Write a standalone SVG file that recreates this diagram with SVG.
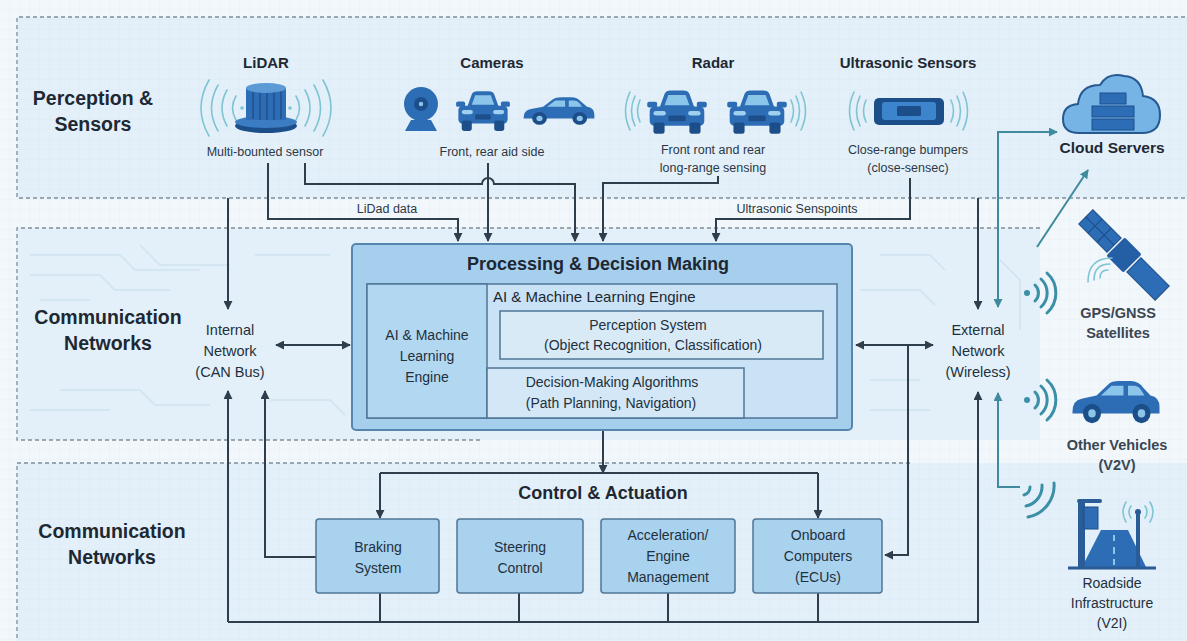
<svg xmlns="http://www.w3.org/2000/svg" xmlns:xlink="http://www.w3.org/1999/xlink" width="1187" height="641" viewBox="0 0 1187 641">
  <style>
    text { font-family: "Liberation Sans", Arial, sans-serif; fill: #1e2833; }
    .sec { font-size: 19.5px; font-weight: bold; text-anchor: middle; }
    .ttl { font-size: 15px; font-weight: bold; text-anchor: middle; }
    .sub { font-size: 12.5px; text-anchor: middle; fill: #2c3845; }
    .lbl { font-size: 14px; text-anchor: middle; fill: #22303d; }
    .net { font-size: 14.5px; text-anchor: middle; fill: #22303d; }
    .big { font-size: 18px; font-weight: bold; text-anchor: middle; }
    .dash { fill: none; stroke: #7d8e9c; stroke-width: 1.3; stroke-dasharray: 4 3; }
    .ln { fill: none; stroke: #2f3e4c; stroke-width: 2; }
    .tl { fill: none; stroke: #3f8a9c; stroke-width: 2; }
    .wave { fill: none; stroke: #7fc4d4; stroke-width: 1.6; stroke-linecap: round; }
    .wf { fill: none; stroke: #3b8fa6; stroke-width: 3; stroke-linecap: round; }
    .box { fill: #a9d2ef; stroke: #4f7696; stroke-width: 1.5; }
    .trace { fill: none; stroke: #cfe2ef; stroke-width: 1.4; }
    .icon { fill: #2c6db6; }
    .iconD { fill: #1c4f8a; }
    .ext { font-size: 14.5px; text-anchor: middle; fill: #3a4652; font-weight: bold; }
  </style>
  <defs>
    <pattern id="grid" width="10" height="10" patternUnits="userSpaceOnUse">
      <path d="M10,0 V10 M0,10 H10" fill="none" stroke="#d7e8f3" stroke-width="0.6"/>
    </pattern>
    <marker id="ah" viewBox="0 0 10 10" refX="9" refY="5" markerWidth="9" markerHeight="9" markerUnits="userSpaceOnUse" orient="auto-start-reverse">
      <path d="M0,0 L10,5 L0,10 z" fill="#2f3e4c"/>
    </marker>
    <marker id="aht" viewBox="0 0 10 10" refX="9" refY="5" markerWidth="9" markerHeight="9" markerUnits="userSpaceOnUse" orient="auto-start-reverse">
      <path d="M0,0 L10,5 L0,10 z" fill="#3f8a9c"/>
    </marker>
    <symbol id="carFront" viewBox="0 0 50 42" preserveAspectRatio="none">
      <path d="M11,18 L15,6 Q16,3 20,3 H30 Q34,3 35,6 L39,18 Z" fill="#2c6db6"/>
      <path d="M15,16 L18,7 H32 L35,16 Z" fill="#8cc5ea"/>
      <rect x="1" y="13" width="8" height="5" rx="1.5" fill="#2c6db6"/>
      <rect x="41" y="13" width="8" height="5" rx="1.5" fill="#2c6db6"/>
      <rect x="3" y="17" width="44" height="17" rx="4" fill="#2c6db6"/>
      <rect x="6" y="31" width="9" height="10" rx="2" fill="#1c4f8a"/>
      <rect x="35" y="31" width="9" height="10" rx="2" fill="#1c4f8a"/>
      <rect x="6" y="21" width="10" height="4" rx="2" fill="#9fd0f0"/>
      <rect x="34" y="21" width="10" height="4" rx="2" fill="#9fd0f0"/>
      <rect x="18" y="25" width="14" height="5" rx="1" fill="#1c4f8a"/>
    </symbol>
    <symbol id="carSide" viewBox="0 0 64 32" preserveAspectRatio="none">
      <path d="M3,22 Q3,15 9,14 L19,12 L27,5 Q29,3 34,3 H42 Q47,3 50,7 L55,12 Q61,13 61,19 V23 H3 Z" fill="#2c6db6"/>
      <path d="M22,12 L29,6 H37 V12 Z M40,12 V6 H44 Q47,6 49,9 L51,12 Z" fill="#8cc5ea"/>
      <circle cx="16" cy="23" r="6" fill="#1c4f8a"/>
      <circle cx="49" cy="23" r="6" fill="#1c4f8a"/>
      <circle cx="16" cy="23" r="2.5" fill="#8cc5ea"/>
      <circle cx="49" cy="23" r="2.5" fill="#8cc5ea"/>
    </symbol>
    <g id="wifi">
      <circle cx="0" cy="0" r="3" fill="#3b8fa6"/>
      <path class="wf" d="M8,-8 A11,11 0 0 1 8,8 M14,-14 A19,19 0 0 1 14,14 M20,-20 A27,27 0 0 1 20,20"/>
    </g>
  </defs>

  <!-- page -->
  <rect width="1187" height="641" fill="#f1f7fb"/>
  <rect width="1187" height="641" fill="url(#grid)" opacity="0.6"/>

  <!-- section panels -->
  <g id="panel-perception">
    <rect x="17" y="17" width="1175" height="181" fill="#e3f0f9"/>
    <rect x="17" y="17" width="1175" height="181" fill="url(#grid)"/>
    <path class="dash" d="M1192,17 H17 V198 H1192"/>
  </g>
  <g id="panel-network">
    <rect x="17" y="228" width="1023" height="212" fill="#e3f0f9"/>
    <path class="trace" d="M30,255 H120 L135,270 H200 M30,275 H100 L115,290 H170 M60,390 H140 L155,405 H210 M30,410 H110 M40,300 H90 M140,245 L160,265 H230 M255,255 H330 M270,400 H330 L345,415 M880,255 H930 L945,270 M870,410 H930 M860,290 H920 L935,305 M1000,260 L1020,280 V330 M870,380 H920"/>
    <path class="dash" d="M1040,228 H17 V440 H480"/>
  </g>
  <g id="panel-control">
    <rect x="17" y="463" width="1175" height="180" fill="#e3f0f9"/>
    <rect x="17" y="463" width="1175" height="180" fill="url(#grid)"/>
    <path class="dash" d="M910,463 H17 V641"/>
  </g>

  <!-- section headings -->
  <text class="sec" x="93" y="105">Perception &amp;</text>
  <text class="sec" x="93" y="131">Sensors</text>
  <text class="sec" x="108" y="324">Communication</text>
  <text class="sec" x="108" y="350">Networks</text>
  <text class="sec" x="112" y="538">Communication</text>
  <text class="sec" x="112" y="564">Networks</text>

  <!-- connectors -->
  <g id="connectors">
    <path class="ln" d="M268,163 V219 H458 V241" marker-end="url(#ah)"/>
    <path class="ln" d="M305,163 V184 H482 A6,6 0 0 1 494,184 H575 V241" marker-end="url(#ah)"/>
    <path class="ln" d="M488,163 V241" marker-end="url(#ah)"/>
    <path class="ln" d="M718,176 V183 H603 V241" marker-end="url(#ah)"/>
    <path class="ln" d="M910,178 V219 H716 V241" marker-end="url(#ah)"/>
    <path class="ln" d="M228,198 V309" marker-end="url(#ah)"/>
    <path class="ln" d="M978,198 V309" marker-end="url(#ah)"/>
    <path class="ln" d="M276,345 H350" marker-start="url(#ah)" marker-end="url(#ah)"/>
    <path class="ln" d="M856,345 H933" marker-start="url(#ah)" marker-end="url(#ah)"/>
    <path class="ln" d="M908,345 V555 H885" marker-end="url(#ah)"/>
    <path class="ln" d="M823,359 V388 H747" marker-end="url(#ah)"/>
    <path class="ln" d="M603,430 V473" marker-end="url(#ah)"/>
    <path class="ln" d="M380,473 H818"/>
    <path class="ln" d="M380,473 V518" marker-end="url(#ah)"/>
    <path class="ln" d="M818,473 V518" marker-end="url(#ah)"/>
    <path class="ln" d="M228,622 V391" marker-end="url(#ah)"/>
    <path class="ln" d="M228,622 H978 V392" marker-end="url(#ah)"/>
    <path class="ln" d="M380,593 V622 M519,593 V622 M668,593 V622 M818,593 V622"/>
    <path class="ln" d="M316,557 H265 V391" marker-end="url(#ah)"/>
    <path class="tl" d="M1057,132 H998 V307" marker-start="url(#aht)" marker-end="url(#aht)"/>
    <path class="tl" d="M1020,487 H998 V393" marker-end="url(#aht)"/>
    <path class="tl" d="M1037,247 L1088,170" marker-end="url(#aht)"/>
    <text class="sub" x="387" y="213">LiDad data</text>
    <text class="sub" x="797" y="213">Ultrasonic Senspoints</text>
  </g>

  <!-- sensors -->
  <g id="lidar">
    <text class="ttl" x="266" y="68">LiDAR</text>
    <path class="wave" d="M236,96 Q229,108 236,120 M227,90 Q217,108 227,126 M218,85 Q205,108 218,131 M209,80 Q193,108 209,136 M296,96 Q303,108 296,120 M305,90 Q315,108 305,126 M314,85 Q327,108 314,131 M323,80 Q339,108 323,136"/>
    <circle cx="242" cy="108" r="1.8" fill="#7fc4d4"/>
    <circle cx="290" cy="108" r="1.8" fill="#7fc4d4"/>
    <ellipse cx="266" cy="126" rx="31" ry="7" class="iconD"/>
    <ellipse cx="266" cy="122" rx="31" ry="6" fill="#3b7cc2"/>
    <rect x="246" y="88" width="40" height="32" class="icon"/>
    <path d="M253,91 V119 M260,92 V120 M267,92 V120 M274,92 V120 M281,91 V119" stroke="#1b4a82" stroke-width="1.2"/>
    <ellipse cx="266" cy="88" rx="20" ry="5" fill="#5c9ad6"/>
    <text class="sub" x="265" y="156">Multi-bounted sensor</text>
  </g>

  <g id="cameras">
    <text class="ttl" x="492" y="68">Cameras</text>
    <circle cx="421" cy="104" r="17" class="icon"/>
    <circle cx="421" cy="104" r="7" fill="#1c4f8a"/>
    <circle cx="421" cy="104" r="2.2" fill="#8cc5ea"/>
    <path d="M411,120 H431 L437,131 H405 Z" class="icon"/>
    <use href="#carFront" x="455" y="88" width="56" height="44"/>
    <use href="#carSide" x="520" y="94" width="78" height="34"/>
    <text class="sub" x="492" y="156">Front, rear aid side</text>
  </g>

  <g id="radar">
    <text class="ttl" x="713" y="68">Radar</text>
    <path class="wave" d="M640,100 Q635,111 640,122 M635,96 Q628,111 635,126 M630,92 Q621,111 630,130 M791,100 Q796,111 791,122 M796,96 Q803,111 796,126 M801,92 Q810,111 801,130"/>
    <use href="#carFront" x="646" y="87" width="62" height="48"/>
    <use href="#carFront" x="726" y="87" width="62" height="48"/>
    <text class="sub" x="713" y="154">Front ront and rear</text>
    <text class="sub" x="713" y="172">long-range sensing</text>
  </g>

  <g id="ultrasonic">
    <text class="ttl" x="908" y="68">Ultrasonic Sensors</text>
    <path class="wave" d="M866,100 Q861,111 866,122 M860,96 Q853,111 860,126 M854,92 Q845,111 854,130 M951,100 Q956,111 951,122 M957,96 Q964,111 957,126 M963,92 Q972,111 963,130"/>
    <rect x="874" y="98" width="70" height="27" rx="5" class="iconD"/>
    <rect x="882" y="102" width="54" height="18" rx="3" fill="#3c84cc"/>
    <rect x="897" y="106" width="24" height="10" rx="1.5" class="iconD"/>
    <text class="sub" x="908" y="154">Close-range bumpers</text>
    <text class="sub" x="908" y="172">(close-sensec)</text>
  </g>

  <!-- networks -->
  <g id="internal-network">
    <text class="net" x="230" y="335">Internal</text>
    <text class="net" x="230" y="356">Network</text>
    <text class="net" x="230" y="377">(CAN Bus)</text>
  </g>
  <g id="external-network">
    <text class="net" x="978" y="335">External</text>
    <text class="net" x="978" y="356">Network</text>
    <text class="net" x="978" y="377">(Wireless)</text>
  </g>

  <!-- processing -->
  <g id="processing">
    <rect x="352" y="244" width="500" height="186" rx="4" fill="#a6cfee" stroke="#5685ad" stroke-width="2"/>
    <text class="big" x="598" y="270" font-size="18.5">Processing &amp; Decision Making</text>
    <rect x="367" y="284" width="470" height="134" fill="#c9e2f5" stroke="#4f7696" stroke-width="1.5"/>
    <rect x="367" y="284" width="120" height="134" fill="#b2d7f1" stroke="#4f7696" stroke-width="1.5"/>
    <text class="lbl" x="427" y="340" font-size="14.5">AI &amp; Machine</text>
    <text class="lbl" x="427" y="361" font-size="14.5">Learning</text>
    <text class="lbl" x="427" y="382" font-size="14.5">Engine</text>
    <text x="493" y="302" font-size="15" fill="#22303d">AI &amp; Machine Learning Engine</text>
  </g>
  <g id="perception-system">
    <rect x="500" y="311" width="323" height="48" fill="#d9eaf7" stroke="#4f7696" stroke-width="1.5"/>
    <text class="lbl" x="648" y="330" font-size="15">Perception System</text>
    <text class="lbl" x="653" y="350">(Object Recognition, Classification)</text>
  </g>
  <g id="decision-making">
    <rect x="487" y="368" width="257" height="50" fill="#d3e7f6" stroke="#4f7696" stroke-width="1.5"/>
    <text class="lbl" x="612" y="387" font-size="15">Decision-Making Algorithms</text>
    <text class="lbl" x="611" y="408">(Path Planning, Navigation)</text>
  </g>

  <!-- control & actuation -->
  <text class="big" x="603" y="499">Control &amp; Actuation</text>
  <g id="braking">
    <rect class="box" x="316" y="519" width="123" height="74" rx="3"/>
    <text class="lbl" x="378" y="552">Braking</text>
    <text class="lbl" x="378" y="573">System</text>
  </g>
  <g id="steering">
    <rect class="box" x="457" y="519" width="126" height="74" rx="3"/>
    <text class="lbl" x="520" y="552">Steering</text>
    <text class="lbl" x="520" y="573">Control</text>
  </g>
  <g id="acceleration">
    <rect class="box" x="601" y="519" width="134" height="74" rx="3"/>
    <text class="lbl" x="668" y="540">Acceleration/</text>
    <text class="lbl" x="668" y="561">Engine</text>
    <text class="lbl" x="668" y="582">Management</text>
  </g>
  <g id="onboard">
    <rect class="box" x="753" y="519" width="129" height="74" rx="3"/>
    <text class="lbl" x="818" y="540">Onboard</text>
    <text class="lbl" x="818" y="561">Computers</text>
    <text class="lbl" x="818" y="582">(ECUs)</text>
  </g>

  <!-- external entities -->
  <g id="cloud">
    <path d="M1079,133 Q1063,133 1063,119 Q1063,105 1078,104 Q1080,85 1100,85 Q1108,72 1124,76 Q1141,77 1143,96 Q1160,98 1160,115 Q1160,133 1142,133 Z" fill="#76b4e6" stroke="#25598f" stroke-width="2"/>
    <rect x="1100" y="93" width="26" height="11" class="icon" stroke="#1c4f8a"/>
    <rect x="1092" y="106" width="42" height="11" class="icon" stroke="#1c4f8a"/>
    <rect x="1092" y="119" width="42" height="11" class="icon" stroke="#1c4f8a"/>
    <text x="1112" y="153" font-size="15.5" font-weight="bold" text-anchor="middle">Cloud Servers</text>
  </g>
  <g id="gps">
    <use href="#wifi" x="1027" y="293"/>
    <g transform="translate(1124,255) rotate(45)">
      <rect x="-54" y="-10" width="40" height="20" class="icon" stroke="#1c4f8a"/>
      <path d="M-54,0 H-14 M-41,-10 V10 M-28,-10 V10 M14,0 H54 M27,-10 V10 M40,-10 V10" stroke="#1c4f8a" stroke-width="1.2"/>
      <rect x="-12" y="-13" width="24" height="26" rx="2" fill="#245ea5"/>
      <rect x="14" y="-10" width="40" height="20" class="icon" stroke="#1c4f8a"/>
    </g>
    <path class="wave" d="M1108,270 Q1100,270 1100,278 M1110,264 Q1094,264 1094,280 M1112,258 Q1088,258 1088,282" stroke="#6dbcc8"/>
    <text class="ext" x="1118" y="318">GPS/GNSS</text>
    <text class="ext" x="1118" y="338">Satellites</text>
  </g>
  <g id="v2v">
    <use href="#wifi" x="1027" y="400"/>
    <use href="#carSide" x="1068" y="376" width="96" height="52"/>
    <text class="ext" x="1117" y="450">Other Vehicles</text>
    <text class="ext" x="1117" y="470">(V2V)</text>
  </g>
  <g id="v2i">
    <path class="wf" d="M1030,487 A8,8 0 0 1 1024,495 M1042,485 A20,20 0 0 1 1026,506 M1054,483 A32,32 0 0 1 1028,517" stroke="#3b9fae"/>
    <path d="M1082,567 L1101,530 H1128 L1146,567 Z" class="icon"/>
    <path d="M1114,535 V541 M1114,547 V554 M1114,559 V565" stroke="#8cc5ea" stroke-width="2"/>
    <rect x="1078" y="500" width="7" height="67" fill="#2a5d97"/>
    <path d="M1079,501 H1100" stroke="#2a5d97" stroke-width="4" stroke-linecap="round"/>
    <rect x="1084" y="507" width="14" height="22" fill="#2f6cb3" stroke="#1c4f8a"/>
    <rect x="1136" y="510" width="4" height="57" fill="#2a5d97"/>
    <circle cx="1138" cy="512" r="3" fill="#2a5d97"/>
    <path class="wave" d="M1131,506 Q1127,512 1131,518 M1145,506 Q1149,512 1145,518 M1126,502 Q1120,512 1126,522 M1150,502 Q1156,512 1150,522" stroke="#4a9aa8"/>
    <path d="M1068,568 H1156" stroke="#2a5d97" stroke-width="3"/>
    <text class="lbl" x="1112" y="588" fill="#3a4652">Roadside</text>
    <text class="lbl" x="1112" y="608" fill="#3a4652">Infrastructure</text>
    <text class="lbl" x="1112" y="628" fill="#3a4652">(V2I)</text>
  </g>
</svg>
